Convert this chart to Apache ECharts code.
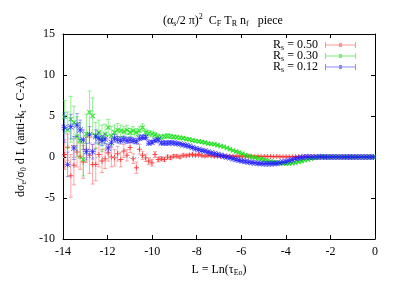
<!DOCTYPE html>
<html><head><meta charset="utf-8">
<script src="https://cdn.jsdelivr.net/npm/echarts@6/dist/echarts.min.js"></script>
<style>html,body{margin:0;padding:0;background:#fff}#c{width:409px;height:286px}</style>
</head><body><div id="c"></div>
<script>
// bin centres, L = Ln(tau)
const Lvals = [
-13.93,-13.79,-13.65,-13.51,-13.37,-13.23,-13.09,-12.95,-12.81,-12.67,
-12.53,-12.39,-12.25,-12.11,-11.97,-11.83,-11.69,-11.55,-11.41,-11.27,
-11.13,-10.99,-10.85,-10.71,-10.57,-10.43,-10.29,-10.15,-10.01,-9.87,
-9.73,-9.59,-9.45,-9.31,-9.17,-9.03,-8.89,-8.75,-8.61,-8.47,
-8.33,-8.19,-8.05,-7.91,-7.77,-7.63,-7.49,-7.35,-7.21,-7.07,
-6.93,-6.79,-6.65,-6.51,-6.37,-6.23,-6.09,-5.95,-5.81,-5.67,
-5.53,-5.39,-5.25,-5.11,-4.97,-4.83,-4.69,-4.55,-4.41,-4.27,
-4.13,-3.99,-3.85,-3.71,-3.57,-3.43,-3.29,-3.15,-3.01,-2.87,
-2.73,-2.59,-2.45,-2.31,-2.17,-2.03,-1.89,-1.75,-1.61,-1.47,
-1.33,-1.19,-1.05,-0.91,-0.77,-0.63,-0.49,-0.35,-0.21,-0.07];

// R_s = 0.50
const red050 = [
0.3,1.2,-2.3,-1.0,0.6,0.1,-0.6,0.95,0.2,-0.9,
-0.9,0.3,-0.5,-0.2,0.5,0.0,-0.1,0.4,-0.3,0.74,
0.2,1.15,-0.2,-1.3,0.95,0.2,-0.1,-0.5,-0.7,0.3,
-0.3,-0.2,-0.3,0.0,-0.1,0.1,0.1,0.0,0.2,0.15,
0.25,0.3,0.2,0.3,0.15,0.1,0.2,0.15,0.1,0.12,
0.1,0.12,0.1,0.08,0.1,0.1,0.08,0.1,0.08,0.1,
0.08,0.06,0.08,0.06,0.05,0.06,0.05,0.04,0.05,0.04,
0.03,0.03,0.02,0.03,0.02,0.02,0.01,0.02,0.01,0.01,
0.01,0,0.01,0,0,0.01,0,0,0,0,
0,0,0,0,0,0,0,0,0,0];
const red050Err = [
1.8,1.6,2.6,2.4,1.8,1.6,2.0,1.6,2.2,2.4,
2.0,1.5,1.4,1.2,1.0,1.2,1.0,0.9,0.9,0.8,
0.7,0.6,0.6,0.7,0.6,0.5,0.45,0.4,0.4,0.35,
0.3,0.25,0.25,0.25,0.2,0.2,0.2,0.18,0.18,0.16,
0.15,0.15,0.14,0.13,0.12,0.12,0.11,0.1,0.1,0.1,
0.1,0.1,0.1,0.1,0.1,0.1,0.1,0.1,0.1,0.1,
0.08,0.08,0.08,0.08,0.08,0.08,0.08,0.08,0.08,0.08,
0.07,0.07,0.07,0.07,0.07,0.07,0.07,0.07,0.07,0.07,
0.06,0.06,0.06,0.06,0.06,0.06,0.06,0.06,0.06,0.06,
0.05,0.05,0.05,0.05,0.05,0.05,0.05,0.05,0.05,0.05];

// R_s = 0.30
const green030 = [
4.9,3.3,4.6,4.2,2.5,2.0,-0.3,2.8,5.45,5.0,
2.6,3.0,2.3,2.8,3.6,2.6,3.0,3.3,3.2,3.1,
3.3,3.0,3.2,3.0,3.2,3.6,3.0,2.9,2.8,2.7,
2.5,2.4,2.5,2.6,2.5,2.45,2.4,2.35,2.3,2.2,
2.15,2.05,1.95,1.9,1.85,1.75,1.65,1.6,1.55,1.45,
1.35,1.25,1.1,0.95,0.8,0.68,0.55,0.4,0.25,0.12,
0.0,-0.08,-0.16,-0.25,-0.35,-0.45,-0.55,-0.62,-0.7,-0.76,
-0.8,-0.82,-0.8,-0.76,-0.7,-0.6,-0.5,-0.4,-0.3,-0.2,
-0.1,-0.04,0,0.01,0,0,0.01,0,0,0,
0,0,0,0,0,0,0,0,0,0];
const green030Err = [
2.0,2.2,2.8,2.0,2.4,2.2,2.0,2.4,2.6,2.2,
1.6,1.5,1.6,1.2,1.0,1.1,0.9,0.8,0.7,0.6,
0.55,0.5,0.5,0.45,0.5,0.45,0.4,0.35,0.35,0.3,
0.3,0.28,0.26,0.25,0.24,0.22,0.2,0.2,0.18,0.18,
0.16,0.15,0.15,0.14,0.14,0.13,0.12,0.12,0.11,0.11,
0.1,0.1,0.1,0.1,0.1,0.1,0.1,0.1,0.1,0.1,
0.1,0.1,0.1,0.1,0.1,0.1,0.1,0.1,0.1,0.1,
0.08,0.08,0.08,0.08,0.08,0.08,0.08,0.08,0.08,0.08,
0.06,0.06,0.06,0.06,0.06,0.06,0.06,0.06,0.06,0.06,
0.05,0.05,0.05,0.05,0.05,0.05,0.05,0.05,0.05,0.05];

// R_s = 0.12
const blue012 = [
3.6,-0.9,3.7,1.1,3.9,3.3,2.1,0.65,2.7,0.65,
2.5,2.3,2.0,2.2,1.1,1.8,2.3,2.1,2.0,2.2,
2.0,2.1,2.0,1.9,2.3,2.4,2.4,1.7,1.8,2.0,
2.1,1.7,1.7,1.7,1.75,1.7,1.65,1.6,1.5,1.4,
1.3,1.15,1.0,0.9,0.8,0.72,0.6,0.5,0.4,0.3,
0.2,0.1,0.0,-0.1,-0.2,-0.3,-0.4,-0.48,-0.55,-0.62,
-0.68,-0.72,-0.76,-0.8,-0.82,-0.82,-0.82,-0.8,-0.75,-0.7,
-0.62,-0.55,-0.45,-0.33,-0.22,-0.12,-0.05,0.0,0.02,0.0,
0.01,0.0,0.02,0.01,0.0,0.01,0.0,0.01,0.0,0.0,
0.01,0.0,0.0,0.01,0.0,0.0,0.0,0.0,0.0,0.0];
const blue012Err = [
1.8,1.5,1.5,1.4,1.4,1.2,1.2,1.0,1.0,0.9,
0.8,0.7,0.6,0.6,0.5,0.5,0.45,0.4,0.4,0.35,
0.35,0.3,0.3,0.3,0.28,0.26,0.25,0.24,0.22,0.2,
0.2,0.18,0.18,0.17,0.16,0.16,0.15,0.15,0.14,0.14,
0.13,0.13,0.13,0.13,0.13,0.13,0.13,0.13,0.13,0.13,
0.12,0.12,0.12,0.12,0.12,0.12,0.12,0.12,0.12,0.12,
0.1,0.1,0.1,0.1,0.1,0.1,0.1,0.1,0.1,0.1,
0.08,0.08,0.08,0.08,0.08,0.08,0.08,0.08,0.08,0.08,
0.07,0.07,0.07,0.07,0.07,0.07,0.07,0.07,0.07,0.07,
0.06,0.06,0.06,0.06,0.06,0.06,0.06,0.06,0.06,0.06];

const seriesNames = ['Rs = 0.50', 'Rs = 0.30', 'Rs = 0.12'];
const legendLabels = {'Rs = 0.50':'0.50','Rs = 0.30':'0.30','Rs = 0.12':'0.12'};
const xTicks = {min:-14, max:0, interval:2};
const yTicks = {min:-10, max:15, interval:5};

const FONT = 'Liberation Serif';
const sub = {fontSize:8, fontFamily:FONT, fontWeight:'normal', color:'#000', lineHeight:12, padding:[6,0,0,0]};
const sup = {fontSize:8, fontFamily:FONT, fontWeight:'normal', color:'#000', lineHeight:12, padding:[0,0,8,0]};
const nrm = {fontSize:12, fontFamily:FONT, fontWeight:'normal', color:'#000', lineHeight:12};

const plusPath = 'path://M0,4 L10,4 L10,6 L0,6 Z M4,0 L6,0 L6,10 L4,10 Z';
const starPath = 'path://M0,4.4 L10,4.4 L10,5.6 L0,5.6 Z M4.4,0 L5.6,0 L5.6,10 L4.4,10 Z M0.8,0 L10,9.2 L9.2,10 L0,0.8 Z M9.2,0 L10,0.8 L0.8,10 L0,9.2 Z';
const legendIcon = 'path://M0,5 L62,5 L62,7 L0,7 Z M0,0 L2,0 L2,12 L0,12 Z M60,0 L62,0 L62,12 L60,12 Z M28,2 L34,2 L34,10 L28,10 Z';

function errData(v, e) { return Lvals.map((x, i) => [x, v[i] - e[i], v[i] + e[i]]); }
function ptData(v) { return Lvals.map((x, i) => [x, v[i]]); }
function errRender(color) {
  return function (params, api) {
    const x = api.value(0), lo = api.value(1), hi = api.value(2);
    const p1 = api.coord([x, hi]), p2 = api.coord([x, lo]);
    const w = 2;
    const st = {stroke: color, lineWidth: 1};
    return {type: 'group', children: [
      {type: 'line', shape: {x1: p1[0], y1: p1[1], x2: p2[0], y2: p2[1]}, style: st},
      {type: 'line', shape: {x1: p1[0] - w, y1: p1[1], x2: p1[0] + w, y2: p1[1]}, style: st},
      {type: 'line', shape: {x1: p2[0] - w, y1: p2[1], x2: p2[0] + w, y2: p2[1]}, style: st}
    ]};
  };
}

const colors = {
  r: {pt:'#ff2020', bar:'rgba(255,60,60,0.45)', leg:'rgba(255,80,80,0.75)'},
  g: {pt:'#10e010', bar:'rgba(40,230,40,0.5)', leg:'rgba(40,230,40,0.8)'},
  b: {pt:'#1818ff', bar:'rgba(60,60,255,0.45)', leg:'rgba(60,60,255,0.75)'}
};

const axisCommon = {
  axisLine: {show: true, onZero: false, lineStyle: {color: '#000', width: 1}},
  axisTick: {show: true, inside: true, length: 4, lineStyle: {color: '#000'}},
  splitLine: {show: false}
};

const chart = echarts.init(document.getElementById('c'), null, {renderer: 'canvas'});
chart.setOption({
  backgroundColor: '#fff',
  animation: false,
  title: {
    text: '{n|(α}{s|s}{n|/2 π)}{p|2}{n|  C}{s|F}{n| T}{s|R}{n| n}{s|f}{n|   piece}',
    left: 218, top: 10, textAlign: 'center',
    textStyle: {fontWeight: 'normal', rich: {n: nrm, s: sub, p: sup}}
  },
  legend: {
    orient: 'vertical', right: 48, top: 33, align: 'right', itemGap: -3,
    itemWidth: 31, itemHeight: 6,
    data: [
      {name: seriesNames[0], icon: legendIcon, itemStyle: {color: colors.r.leg}},
      {name: seriesNames[1], icon: legendIcon, itemStyle: {color: colors.g.leg}},
      {name: seriesNames[2], icon: legendIcon, itemStyle: {color: colors.b.leg}}
    ],
    formatter: function (name) { return '{n|R}{s|s}{n| = ' + legendLabels[name] + '}'; },
    textStyle: {rich: {n: nrm, s: sub}, padding: [0, 2, 0, 0]}
  },
  grid: {left: 63, right: 34, top: 34, bottom: 47},
  xAxis: [
    Object.assign({}, axisCommon, {
      type: 'value', position: 'bottom', min: xTicks.min, max: xTicks.max, interval: xTicks.interval,
      axisLabel: {color: '#000', fontFamily: FONT, fontSize: 12, margin: 7},
      name: '{n|L = Ln(τ}{s|Eo}{n|)}', nameLocation: 'middle', nameGap: 21,
      nameTextStyle: {rich: {n: nrm, s: sub}}
    }),
    Object.assign({}, axisCommon, {
      type: 'value', position: 'top', min: xTicks.min, max: xTicks.max, interval: xTicks.interval,
      axisLabel: {show: false}
    })
  ],
  yAxis: [
    Object.assign({}, axisCommon, {
      type: 'value', position: 'left', min: yTicks.min, max: yTicks.max, interval: yTicks.interval,
      axisLabel: {color: '#000', fontFamily: FONT, fontSize: 12, margin: 8},
      name: '{n|dσ}{s|e}{n|/σ}{s|0}{n| d L (anti-k}{s|t}{n| - C-A)}',
      nameLocation: 'middle', nameGap: 34, nameRotate: 90,
      nameTextStyle: {rich: {n: nrm, s: sub}}
    }),
    Object.assign({}, axisCommon, {
      type: 'value', position: 'right', min: yTicks.min, max: yTicks.max, interval: yTicks.interval,
      axisLabel: {show: false}
    })
  ],
  series: [
    {type: 'custom', name: 'err050', renderItem: errRender(colors.r.bar), data: errData(red050, red050Err),
     encode: {x: 0, y: [1, 2]}, z: 2, silent: true,
     markLine: {silent: true, symbol: ['none', 'none'], label: {show: false},
       lineStyle: {type: [1, 2], color: '#aaa', width: 1}, data: [{yAxis: 0}]}},
    {type: 'scatter', name: seriesNames[0], data: ptData(red050), symbol: plusPath, symbolSize: 5,
     itemStyle: {color: colors.r.pt}, z: 3},
    {type: 'custom', name: 'err030', renderItem: errRender(colors.g.bar), data: errData(green030, green030Err),
     encode: {x: 0, y: [1, 2]}, z: 4, silent: true},
    {type: 'scatter', name: seriesNames[1], data: ptData(green030), symbol: plusPath, symbolRotate: 45, symbolSize: 6,
     itemStyle: {color: colors.g.pt}, z: 5},
    {type: 'custom', name: 'err012', renderItem: errRender(colors.b.bar), data: errData(blue012, blue012Err),
     encode: {x: 0, y: [1, 2]}, z: 6, silent: true},
    {type: 'scatter', name: seriesNames[2], data: ptData(blue012), symbol: starPath, symbolSize: 6,
     itemStyle: {color: colors.b.pt}, z: 7}
  ]
});
</script>
</body></html>
